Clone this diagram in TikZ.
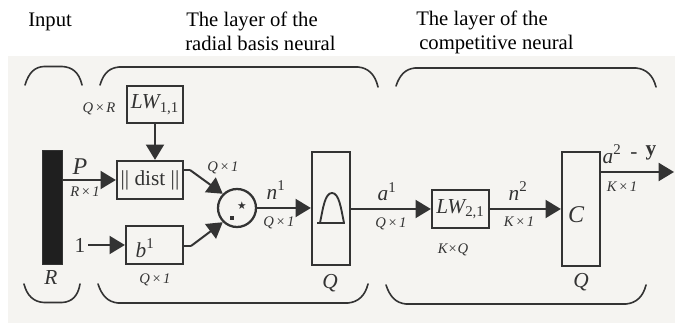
\documentclass[tikz,border=0pt]{standalone}
\usepackage{fontspec}
\setmainfont{Liberation Serif}
\newfontfamily\symfont{DejaVu Sans}
\usetikzlibrary{arrows.meta}
\definecolor{paper}{HTML}{F5F4F1}
\definecolor{ink}{HTML}{333333}
\tikzset{
  x=0.75pt,y=-0.75pt,
  box/.style={draw=ink,line width=1.7pt,fill=paper,inner sep=0pt},
  plainwire/.style={draw=ink,line width=1.5pt},
  wire/.style={draw=ink,line width=1.5pt,-{Triangle[length=11.5pt,width=13.5pt,fill=ink]}},
  brace/.style={draw=ink,line width=1.2pt,line cap=round},
  head/.style={anchor=base west,font=\fontsize{15.5}{18}\selectfont,text=black,inner sep=0pt},
  dim/.style={font=\fontsize{11}{12}\itshape\selectfont,text=ink,inner sep=0pt},
  sym/.style={font=\fontsize{16}{18}\itshape\selectfont,text=ink,inner sep=0pt},
  rom/.style={font=\fontsize{16}{18}\selectfont,text=ink,inner sep=0pt},
}
\newcommand{\rectnode}[5]{\node[box,minimum width=#4*0.75pt,minimum height=#5*0.75pt] (#1) at (#2,#3) {};}
\newcommand{\subs}[1]{\textsubscript{\upshape #1}}
\newcommand{\sups}[1]{\textsuperscript{\upshape #1}}
\newcommand{\tm}{\kern1.2pt×\kern1.2pt}
\begin{document}
\begin{tikzpicture}
\useasboundingbox (0,0) rectangle (675,323);
\fill[paper] (8,56) rectangle (675,323);
% text headings
\node[head] (hInput) at (28,27) {Input};
\node[head] (hRa) at (186,27) {The layer of the};
\node[head] (hRb) at (185,51) {radial basis neural};
\node[head] (hCa) at (416,26) {The layer of the};
\node[head] (hCb) at (419,50) {competitive neural};
% braces
\draw[brace] (25,85) .. controls (29,72) and (35,67) .. (44,66.5) -- (62,66.5) .. controls (72,67) and (79,72) .. (82,85);
\draw[brace] (100,85) .. controls (104,72) and (110,68) .. (119,67) -- (358,67) .. controls (368,68) and (375,74) .. (378,87);
\draw[brace] (396,86) .. controls (400,74) and (406,69) .. (415,68) -- (636,68) .. controls (646,69) and (653,75) .. (656,87);
\draw[brace] (24,284) .. controls (27,296) and (34,302) .. (44,302.5) -- (62,302.5) .. controls (72,302) and (78,296) .. (80,284);
\draw[brace] (98,284) .. controls (102,296) and (108,302) .. (118,303) -- (348,303) .. controls (358,302) and (365,296) .. (368,284);
\draw[brace] (386,285) .. controls (390,297) and (396,303) .. (406,304) -- (626,304) .. controls (636,303) and (643,297) .. (646,285);
% boxes
\rectnode{lwa}{155}{104.5}{56}{37}
\rectnode{dist}{150}{180}{66}{38}
\rectnode{bone}{154.5}{245}{57}{38}
\node[draw=ink,fill=black!88,line width=0.5pt,minimum width=15pt,minimum height=85.5pt,inner sep=0pt] (bar) at (52,207) {};
\node[box,circle,minimum size=28.5pt] (sum) at (237,208) {};
\rectnode{radb}{331}{208.5}{38}{113}
\rectnode{lwb}{460.5}{209}{57}{38}
\rectnode{comp}{581}{209}{38}{114}
% box contents
\node[sym] at (lwa) {LW\subs{1,1}};
\node[rom] at (dist) {|| dist ||};
\node[sym] at (145,248) {b\sups{1}};
\node[sym] at (lwb) {LW\subs{2,1}};
\node[sym,font=\fontsize{18}{20}\itshape\selectfont] at (576,215) {C};
\node[font=\fontsize{8}{8}\symfont,text=ink,inner sep=0pt] at (242,206) {★};
\fill[ink] (230,216) rectangle (234,220);
\draw[ink,line width=1.4pt] (317,223) -- (345,223);
\draw[ink,line width=1.4pt] (320,223) .. controls (323,208) and (325,193) .. (332,193) .. controls (339,193) and (341,208) .. (344,223);
% connectors
\coordinate (inOne) at (88,245);
\coordinate (out) at (674,172);
\coordinate (dk) at (190,170);
\coordinate (bk) at (191,246);
\path[wire] (lwa.south) -- (lwa.south |- dist.north);
\path[wire] (bar.east |- dist.west) -- (dist.west);
\path[wire] (inOne) -- (bone.west);
\path[plainwire] (dist.east |- dk) -- (dk);
\path[wire] (dk) -- (sum.north west);
\path[plainwire] (bone.east |- bk) -- (bk);
\path[wire] (bk) -- (sum.south west);
\path[wire] (sum.east) -- (sum.east -| radb.west);
\path[wire] (radb.east |- lwb.west) -- (lwb.west);
\path[wire] (lwb.east) -- (lwb.east -| comp.west);
\path[wire] (comp.east |- out) -- (out);
% labels
\node[dim] at (99,109) {Q\tm R};
\node[sym,font=\fontsize{18}{20}\itshape\selectfont] at (80,167) {P};
\node[dim] at (85,192) {R\tm 1};
\node[dim] at (223,168) {Q\tm 1};
\node[sym] at (276,190) {n\sups{1}};
\node[dim] at (279,223) {Q\tm 1};
\node[rom] at (80,245) {1};
\node[dim] at (155,280) {Q\tm 1};
\node[sym] at (51,278) {R};
\node[sym] at (330,283) {Q};
\node[sym] at (387,192) {a\sups{1}};
\node[dim] at (391,224) {Q\tm 1};
\node[sym] at (518,191) {n\sups{2}};
\node[dim] at (519,222) {K\tm 1};
\node[dim] at (453,250) {K×Q};
\node[sym] at (581,282) {Q};
\node[sym] at (612,154) {a\sups{2}};
\node[rom] at (634,156) {-};
\node[font=\fontsize{16}{16}\bfseries\selectfont,text=ink,inner sep=0pt] at (651,153) {y};
\node[dim] at (622,187) {K\tm 1};
\end{tikzpicture}
\end{document}
